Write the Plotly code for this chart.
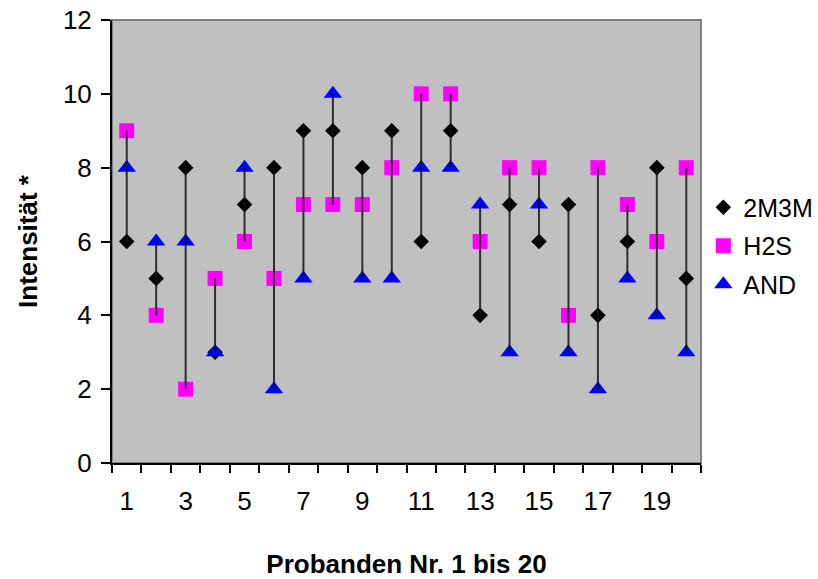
import plotly.graph_objects as go

# Probanden 1..20 and the rated intensity of each odorant
probanden = list(range(1, 21))
m2m3m = [6, 5, 8, 3, 7, 8, 9, 9, 8, 9, 6, 9, 4, 7, 6, 7, 4, 6, 8, 5]
h2s = [9, 4, 2, 5, 6, 5, 7, 7, 7, 8, 10, 10, 6, 8, 8, 4, 8, 7, 6, 8]
and_ = [8, 6, 6, 3, 8, 2, 5, 10, 5, 5, 8, 8, 7, 3, 7, 3, 2, 5, 4, 3]

x_ticklabels = [str(v) for v in range(1, 20, 2)]

FONT = "Liberation Sans, Arial, sans-serif"

# High-low line per subject, spanning the lowest to the highest rating
hl_x, hl_y = [], []
for p, a, b, c in zip(probanden, m2m3m, h2s, and_):
    hl_x += [p, p, None]
    hl_y += [min(a, b, c), max(a, b, c), None]

fig = go.Figure()

fig.add_trace(go.Scatter(
    x=probanden, y=m2m3m, mode="markers", name="2M3M", legendgroup="a",
    marker=dict(symbol="diamond", color="black", size=12, line=dict(width=0)),
))
fig.add_trace(go.Scatter(
    x=probanden, y=h2s, mode="markers", name="H2S", legendgroup="b",
    marker=dict(symbol="square", color="#FF00FF", size=15, line=dict(width=0)),
))
fig.add_trace(go.Scatter(
    x=probanden, y=and_, mode="markers", name="AND", legendgroup="c",
    marker=dict(symbol="triangle-up", color="#0000FF", size=16, line=dict(width=0)),
))
fig.add_trace(go.Scatter(
    x=hl_x, y=hl_y, mode="lines", showlegend=False, hoverinfo="skip",
    line=dict(color="rgba(20,20,20,0.85)", width=2),
))

fig.update_layout(
    width=818, height=579,
    margin=dict(l=112, r=117, t=20, b=116, autoexpand=False),
    paper_bgcolor="white",
    plot_bgcolor="#C0C0C0",
    font=dict(family=FONT, size=26, color="black"),
    showlegend=True,
    legend=dict(
        x=1.004, y=0.49, xanchor="left", yanchor="middle",
        font=dict(family=FONT, size=25, color="black"),
        bgcolor="rgba(0,0,0,0)", borderwidth=0,
        tracegroupgap=3, itemwidth=30,
    ),
    xaxis=dict(
        range=[0.5, 20.5], tickmode="array",
        tickvals=list(range(1, 20, 2)), ticktext=x_ticklabels,
        ticks="", showgrid=False, zeroline=False,
        showline=True, linecolor="black", linewidth=2,
        ticklabelstandoff=14, automargin=False,
        minor=dict(tickmode="array", tickvals=[i + 0.5 for i in range(0, 21)],
                   ticks="outside", ticklen=8, tickwidth=2, tickcolor="black",
                   showgrid=False),
        title=dict(text="<b>Probanden Nr. 1 bis 20</b>", standoff=41,
                   font=dict(family=FONT, size=26)),
    ),
    yaxis=dict(
        range=[0, 12], tickmode="linear", tick0=0, dtick=2,
        ticks="outside", ticklen=9, tickwidth=2, tickcolor="black",
        showgrid=False, zeroline=False,
        showline=True, linecolor="black", linewidth=2,
        ticklabelstandoff=4, automargin=False,
        title=dict(text="<b>Intensität *</b>", standoff=18,
                   font=dict(family=FONT, size=26)),
    ),
    shapes=[dict(type="rect", xref="paper", yref="paper", x0=0, y0=0, x1=1, y1=1,
                 line=dict(color="#808080", width=2), layer="below")],
)

fig.write_html("out.html")
